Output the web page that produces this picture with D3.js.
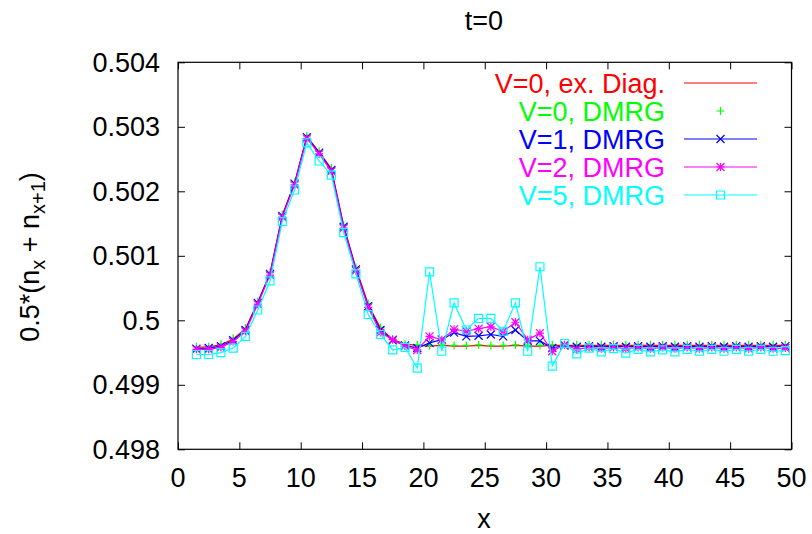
<!DOCTYPE html>
<html>
<head>
<meta charset="utf-8">
<script src="https://cdn.jsdelivr.net/npm/d3@7"></script>
<style>
  body { margin: 0; background: #fff; }
  text { font-family: "Liberation Sans", Arial, Helvetica, sans-serif; }
</style>
</head>
<body>
<svg id="chart" width="812" height="534"></svg>
<script>
// site positions (bond centres)
var xs = [1.5, 2.5, 3.5, 4.5, 5.5, 6.5, 7.5, 8.5, 9.5, 10.5,
          11.5, 12.5, 13.5, 14.5, 15.5, 16.5, 17.5, 18.5, 19.5, 20.5,
          21.5, 22.5, 23.5, 24.5, 25.5, 26.5, 27.5, 28.5, 29.5, 30.5,
          31.5, 32.5, 33.5, 34.5, 35.5, 36.5, 37.5, 38.5, 39.5, 40.5,
          41.5, 42.5, 43.5, 44.5, 45.5, 46.5, 47.5, 48.5, 49.5];

var exactV0 = [0.49958, 0.49959, 0.49962, 0.49971, 0.49987, 0.50028, 0.50073, 0.50163, 0.50213, 0.50285,
               0.50261, 0.50235, 0.50147, 0.50081, 0.50025, 0.49988, 0.49970, 0.49963, 0.49961, 0.49960,
               0.49961, 0.49960, 0.49960, 0.49961, 0.49960, 0.49960, 0.49961, 0.49960, 0.49960, 0.49961,
               0.49961, 0.49961, 0.49961, 0.49961, 0.49961, 0.49961, 0.49961, 0.49961, 0.49961, 0.49961,
               0.49961, 0.49961, 0.49961, 0.49961, 0.49961, 0.49961, 0.49961, 0.49961, 0.49961];

var dmrgV0 = [0.49959, 0.49959, 0.49963, 0.49972, 0.49988, 0.50029, 0.50074, 0.50164, 0.50214, 0.50286,
              0.50262, 0.50236, 0.50148, 0.50082, 0.50026, 0.49989, 0.49971, 0.49963, 0.49962, 0.49961,
              0.49962, 0.49961, 0.49961, 0.49962, 0.49961, 0.49961, 0.49962, 0.49961, 0.49961, 0.49962,
              0.49962, 0.49962, 0.49962, 0.49962, 0.49962, 0.49962, 0.49962, 0.49962, 0.49962, 0.49962,
              0.49962, 0.49962, 0.49962, 0.49962, 0.49962, 0.49962, 0.49962, 0.49962, 0.49962];

var dmrgV1 = [0.49956, 0.49957, 0.49960, 0.49969, 0.49985, 0.50027, 0.50072, 0.50162, 0.50212, 0.50284,
              0.50260, 0.50233, 0.50145, 0.50079, 0.50022, 0.49985, 0.49969, 0.49961, 0.49957, 0.49965,
              0.49970, 0.49981, 0.49975, 0.49976, 0.49978, 0.49975, 0.49985, 0.49968, 0.49968, 0.49957,
              0.49961, 0.49959, 0.49960, 0.49959, 0.49960, 0.49959, 0.49960, 0.49959, 0.49960, 0.49959,
              0.49960, 0.49959, 0.49960, 0.49959, 0.49960, 0.49959, 0.49960, 0.49959, 0.49960];

var dmrgV2 = [0.49955, 0.49955, 0.49958, 0.49967, 0.49983, 0.50025, 0.50070, 0.50160, 0.50210, 0.50282,
              0.50258, 0.50231, 0.50143, 0.50077, 0.50020, 0.49981, 0.49970, 0.49960, 0.49954, 0.49975,
              0.49970, 0.49986, 0.49983, 0.49987, 0.49990, 0.49983, 0.49997, 0.49970, 0.49980, 0.49952,
              0.49962, 0.49955, 0.49958, 0.49956, 0.49958, 0.49956, 0.49958, 0.49956, 0.49958, 0.49956,
              0.49958, 0.49956, 0.49958, 0.49956, 0.49958, 0.49956, 0.49958, 0.49956, 0.49957];

var dmrgV5 = [0.49947, 0.49947, 0.49950, 0.49957, 0.49975, 0.50016, 0.50061, 0.50153, 0.50202, 0.50275,
              0.50247, 0.50225, 0.50136, 0.50072, 0.50009, 0.49978, 0.49954, 0.49958, 0.49926, 0.50075,
              0.49952, 0.50027, 0.49985, 0.50003, 0.50003, 0.49983, 0.50027, 0.49952, 0.50083, 0.49929,
              0.49964, 0.49948, 0.49957, 0.49951, 0.49956, 0.49949, 0.49955, 0.49951, 0.49954, 0.49951,
              0.49955, 0.49952, 0.49955, 0.49952, 0.49955, 0.49952, 0.49955, 0.49952, 0.49953];

var seriesLabels = ['V=0, ex. Diag.', 'V=0, DMRG', 'V=1, DMRG', 'V=2, DMRG', 'V=5, DMRG'];
var seriesColors = ['#ff0000', '#00ff00', '#0000ff', '#ff00ff', '#00ffff'];
var seriesMarkers = ['none', 'plus', 'cross', 'star', 'box'];
var seriesLines = [true, false, true, true, true];
var seriesValues = [exactV0, dmrgV0, dmrgV1, dmrgV2, dmrgV5];

var xTicks = [0, 5, 10, 15, 20, 25, 30, 35, 40, 45, 50];
var yTicks = [0.498, 0.499, 0.5, 0.501, 0.502, 0.503, 0.504];

(function() {
    var svg = d3.select('#chart');
    var pLeft = 178, pRight = 791.5, pTop = 62.3, pBottom = 449.3;

    var x = d3.scaleLinear().domain([0, 50]).range([pLeft, pRight]);
    var y = d3.scaleLinear().domain([0.498, 0.504]).range([pBottom, pTop]);

    // marker shapes, gnuplot style
    function markerPath(type) {
        var s = 4;
        if (type == 'plus') return 'M' + -s + ',0H' + s + 'M0,' + -s + 'V' + s;
        if (type == 'cross') return 'M' + -s + ',' + -s + 'L' + s + ',' + s + 'M' + -s + ',' + s + 'L' + s + ',' + -s;
        if (type == 'star') return markerPath('plus') + markerPath('cross');
        if (type == 'box') return 'M' + -s + ',' + -s + 'H' + s + 'V' + s + 'H' + -s + 'Z';
        return '';
    }

    // axes: ticks inward on all four sides
    var tickLen = 7;
    var axB = d3.axisBottom(x).tickValues(xTicks).tickSize(-tickLen).tickFormat('');
    var axT = d3.axisTop(x).tickValues(xTicks).tickSize(-tickLen).tickFormat('');
    var axL = d3.axisLeft(y).tickValues(yTicks).tickSize(-tickLen).tickFormat('');
    var axR = d3.axisRight(y).tickValues(yTicks).tickSize(-tickLen).tickFormat('');

    svg.append('g').attr('transform', 'translate(0,' + pBottom + ')').call(axB);
    svg.append('g').attr('transform', 'translate(0,' + pTop + ')').call(axT);
    svg.append('g').attr('transform', 'translate(' + pLeft + ',0)').call(axL);
    svg.append('g').attr('transform', 'translate(' + pRight + ',0)').call(axR);
    svg.selectAll('.domain').remove();
    svg.selectAll('.tick line').attr('stroke', '#000').attr('stroke-width', 1);

    svg.append('rect')
        .attr('x', pLeft).attr('y', pTop)
        .attr('width', pRight - pLeft).attr('height', pBottom - pTop)
        .attr('fill', 'none').attr('stroke', '#000').attr('stroke-width', 1.2);

    // tick labels
    svg.append('g').selectAll('text').data(xTicks).enter().append('text')
        .attr('x', function(d) { return x(d); })
        .attr('y', 487)
        .attr('text-anchor', 'middle')
        .attr('font-size', 27)
        .text(function(d) { return d; });

    svg.append('g').selectAll('text').data(yTicks).enter().append('text')
        .attr('x', 160)
        .attr('y', function(d) { return y(d) + 9.5; })
        .attr('text-anchor', 'end')
        .attr('font-size', 27)
        .text(function(d) { return d3.format('')(d); });

    // titles
    svg.append('text').attr('x', 484).attr('y', 30).attr('text-anchor', 'middle')
        .attr('font-size', 27).text('t=0');
    svg.append('text').attr('x', 484).attr('y', 528).attr('text-anchor', 'middle')
        .attr('font-size', 27).text('x');

    var ylab = svg.append('text')
        .attr('transform', 'translate(39,257) rotate(-90)')
        .attr('text-anchor', 'middle')
        .attr('font-size', 27);
    ylab.append('tspan').text('0.5*(n');
    ylab.append('tspan').attr('font-size', 20).attr('baseline-shift', '-30%').text('x');
    ylab.append('tspan').text(' + n');
    ylab.append('tspan').attr('font-size', 20).attr('baseline-shift', '-30%').text('x+1');
    ylab.append('tspan').text(')');

    // data
    var line = d3.line()
        .x(function(d) { return x(d[0]); })
        .y(function(d) { return y(d[1]); });

    var plot = svg.append('g');
    var legendY = [83, 111, 139, 167, 195];

    seriesValues.forEach(function(vals, k) {
        var pts = xs.map(function(xv, i) { return [xv, vals[i]]; });
        var g = plot.append('g');
        if (seriesLines[k]) {
            g.append('path').datum(pts)
                .attr('d', line)
                .attr('fill', 'none')
                .attr('stroke', seriesColors[k])
                .attr('stroke-width', 1.2);
        }
        if (seriesMarkers[k] != 'none') {
            g.selectAll('path.pt').data(pts).enter().append('path')
                .attr('class', 'pt')
                .attr('transform', function(d) { return 'translate(' + x(d[0]) + ',' + y(d[1]) + ')'; })
                .attr('d', markerPath(seriesMarkers[k]))
                .attr('fill', 'none')
                .attr('stroke', seriesColors[k])
                .attr('stroke-width', 1.2);
        }

        // legend entry
        var ly = legendY[k];
        svg.append('text')
            .attr('x', 665).attr('y', ly + 9.5)
            .attr('text-anchor', 'end')
            .attr('font-size', 27)
            .attr('fill', seriesColors[k])
            .text(seriesLabels[k]);
        if (seriesLines[k]) {
            svg.append('line')
                .attr('x1', 684).attr('x2', 757)
                .attr('y1', ly).attr('y2', ly)
                .attr('stroke', seriesColors[k]).attr('stroke-width', 1.2);
        }
        if (seriesMarkers[k] != 'none') {
            svg.append('path')
                .attr('transform', 'translate(720.5,' + ly + ')')
                .attr('d', markerPath(seriesMarkers[k]))
                .attr('fill', 'none')
                .attr('stroke', seriesColors[k])
                .attr('stroke-width', 1.2);
        }
    });
})();
</script>
</body>
</html>
